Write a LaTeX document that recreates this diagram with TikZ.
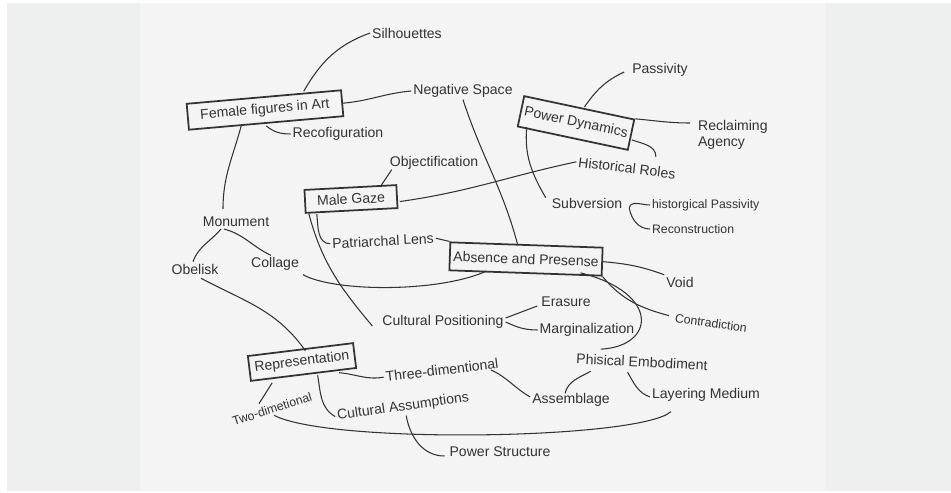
\documentclass[tikz,border=0pt]{standalone}
\usepackage{fontspec}
\setmainfont{Liberation Sans}
\usetikzlibrary{calc}
\definecolor{ink}{HTML}{333333}
\definecolor{paper}{HTML}{F4F4F4}
\definecolor{frame}{HTML}{EEEFEF}

\begin{document}
\begin{tikzpicture}[x=0.02cm, y=-0.02cm,
    topic/.style={rectangle, draw=ink, line width=1pt, inner sep=2pt,
                font=\fontsize{8}{9.5}\selectfont, text=ink},
    idea/.style={inner sep=1pt, font=\fontsize{8}{9.5}\selectfont, text=ink},
    small/.style={inner sep=1pt, font=\fontsize{7}{8.5}\selectfont, text=ink},
    link/.style={draw=ink, line width=0.6pt},
]

% --- Sheet ---
\fill[white] (0,0) rectangle (951,493);
\fill[frame] (7,3) rectangle (951,491);
\fill[paper] (140,3) rectangle (825,491);
\useasboundingbox (0,0) rectangle (951,493);

% --- Boxed topics ---
\node[topic, rotate=5, minimum width=3.1cm, minimum height=0.52cm] (fem) at (265,110) {Female figures in Art};
\node[topic, rotate=-12, minimum width=2.25cm, minimum height=0.62cm] (pd) at (576,123) {Power Dynamics};
\node[topic, rotate=3, minimum width=1.84cm, minimum height=0.46cm] (mg) at (351,199) {Male Gaze};
\node[topic, rotate=-2, minimum width=3.04cm, minimum height=0.56cm] (abs) at (526,259) {Absence and Presense};
\node[topic, rotate=7, minimum width=2.12cm, minimum height=0.5cm] (rep) at (302,362) {Representation};

% --- Ideas ---
\node[idea] (sil) at (407,33) {Silhouettes};
\node[idea] (neg) at (463,91) {Negative Space};
\node[idea] (pass) at (660,70) {Passivity};
\node[idea, align=left, anchor=west] (rec) at (696,135) {Reclaiming\\Agency};
\node[idea] (recof) at (338,134) {Recofiguration};
\node[idea] (obj) at (434,163) {Objectification};
\node[idea, rotate=-7] (hist) at (627,168) {Historical Roles};
\node[idea] (subv) at (587,203) {Subversion};
\node[small, anchor=west] (hpass) at (650,205) {historgical Passivity};
\node[small, anchor=west] (recon) at (650,229) {Reconstruction};
\node[idea] (mon) at (236,222) {Monument};
\node[idea, rotate=3] (patr) at (383,241) {Patriarchal Lens};
\node[idea] (obel) at (195,269) {Obelisk};
\node[idea] (coll) at (275,264) {Collage};
\node[idea] (void) at (680,282) {Void};
\node[idea] (cpos) at (443,322) {Cultural Positioning};
\node[idea] (eras) at (566,302) {Erasure};
\node[idea] (marg) at (587,330) {Marginalization};
\node[small, rotate=-8] (contr) at (711,323) {Contradiction};
\node[idea, rotate=-3] (phys) at (642,362) {Phisical Embodiment};
\node[idea, rotate=7] (three) at (442,370) {Three-dimentional};
\node[idea, rotate=8] (cass) at (403,407) {Cultural Assumptions};
\node[small, rotate=18] (two) at (272,409) {Two-dimetional};
\node[idea] (assem) at (571,400) {Assemblage};
\node[idea] (layer) at (706,395) {Layering Medium};
\node[idea] (pstr) at (500,452) {Power Structure};

% --- Female figures in Art ---
\draw[link] ($(fem.north)+(40,-5)$) to[out=60,in=200] (sil.west);
\draw[link] (fem.east) to[out=5,in=185] (neg.west);
\draw[link] ($(fem.south)+(0,2)$) to[out=-40,in=180] (recof.west);
\draw[link] ($(fem.south)+(-25,2)$) to[out=-105,in=90] ($(mon.north)+(-13,-6)$);
\draw[link] (neg.south) to[out=-72,in=105] ($(abs.north)+(-9,0)$);

% --- Power Dynamics ---
\draw[link] ($(pd.north)+(5,0)$) to[out=55,in=205] ($(pass.west)+(-6,2)$);
\draw[link] (pd.north east) to[out=-5,in=180] ($(rec.west)+(-6,-12)$);
\draw[link] ($(pd.east)+(0,5)$) to[out=-20,in=90] ($(hist.north)+(28,-4)$);
\draw[link] ($(pd.south west)+(10,0)$) to[out=-95,in=120] ($(subv.north west)+(-4,2)$);
\draw[link] ($(subv.east)+(5,5)$) to[out=80,in=180] (hpass.west);
\draw[link] ($(subv.east)+(5,5)$) to[out=-80,in=180] (recon.west);

% --- Male Gaze ---
\draw[link] ($(mg.east)+(2,5)$) to[out=8,in=192] (hist.west);
\draw[link] ($(mg.north)+(30,0)$) -- ($(obj.south west)+(4,-2)$);
\draw[link] ($(mg.south west)+(12,0)$) to[out=-85,in=180] (patr.west);
\draw[link] ($(mg.south west)+(4,0)$) to[out=-75,in=130] ($(cpos.west)+(-8,4)$);
\draw[link] (patr.east) -- (abs.north west);

% --- Absence and Presense ---
\draw[link] ($(abs.south west)+(38,0)$) .. controls +(-50,22) and +(30,17) .. ($(coll.south east)+(2,2)$);
\draw[link] (abs.east) to[out=-5,in=160] (void.north west);
\draw[link] (abs.south east) to[out=-50,in=165] ($(contr.west)+(-4,-2)$);
\draw[link] ($(abs.south)+(55,-1)$) .. controls +(80,20) and +(55,-3) .. ($(phys.north west)+(26,-2)$);

% --- Monument ---
\draw[link] ($(mon.south)+(-15,0)$) to[out=-130,in=70] ($(obel.north)+(-2,0)$);
\draw[link] ($(mon.south)+(-12,0)$) to[out=-15,in=155] ($(coll.north)+(-4,0)$);
\draw[link] ($(obel.south)+(6,2)$) to[out=-28,in=125] ($(rep.north)+(5,2)$);

% --- Cultural Positioning ---
\draw[link] ($(cpos.east)+(0,-4)$) -- ($(eras.west)+(-2,4)$);
\draw[link] (cpos.east) to[out=-25,in=180] (marg.west);

% --- Representation ---
\draw[link] ($(rep.south east)+(-18,4)$) to[out=-5,in=190] (three.west);
\draw[link] ($(rep.south west)+(22,1)$) -- ($(two.north)+(-11,1)$);
\draw[link] ($(rep.south)+(14,0)$) to[out=-80,in=150] (cass.west);
\draw[link] (two.south) .. controls +(55,29) and +(-32,28) .. ($(layer.south)+(-35,8)$);
\draw[link] ($(cass.south)+(2,0)$) to[out=-80,in=180] ($(pstr.west)+(-3,4)$);

% --- Phisical Embodiment ---
\draw[link] ($(three.south east)+(-10,0)$) to[out=-25,in=150] ($(assem.west)+(0,-3)$);
\draw[link] ($(phys.south)+(-51,2)$) to[out=-150,in=75] ($(assem.north)+(-6,2)$);
\draw[link] ($(phys.south)+(-14,3)$) to[out=-60,in=160] ($(layer.west)+(0,2)$);

\end{tikzpicture}
\end{document}
